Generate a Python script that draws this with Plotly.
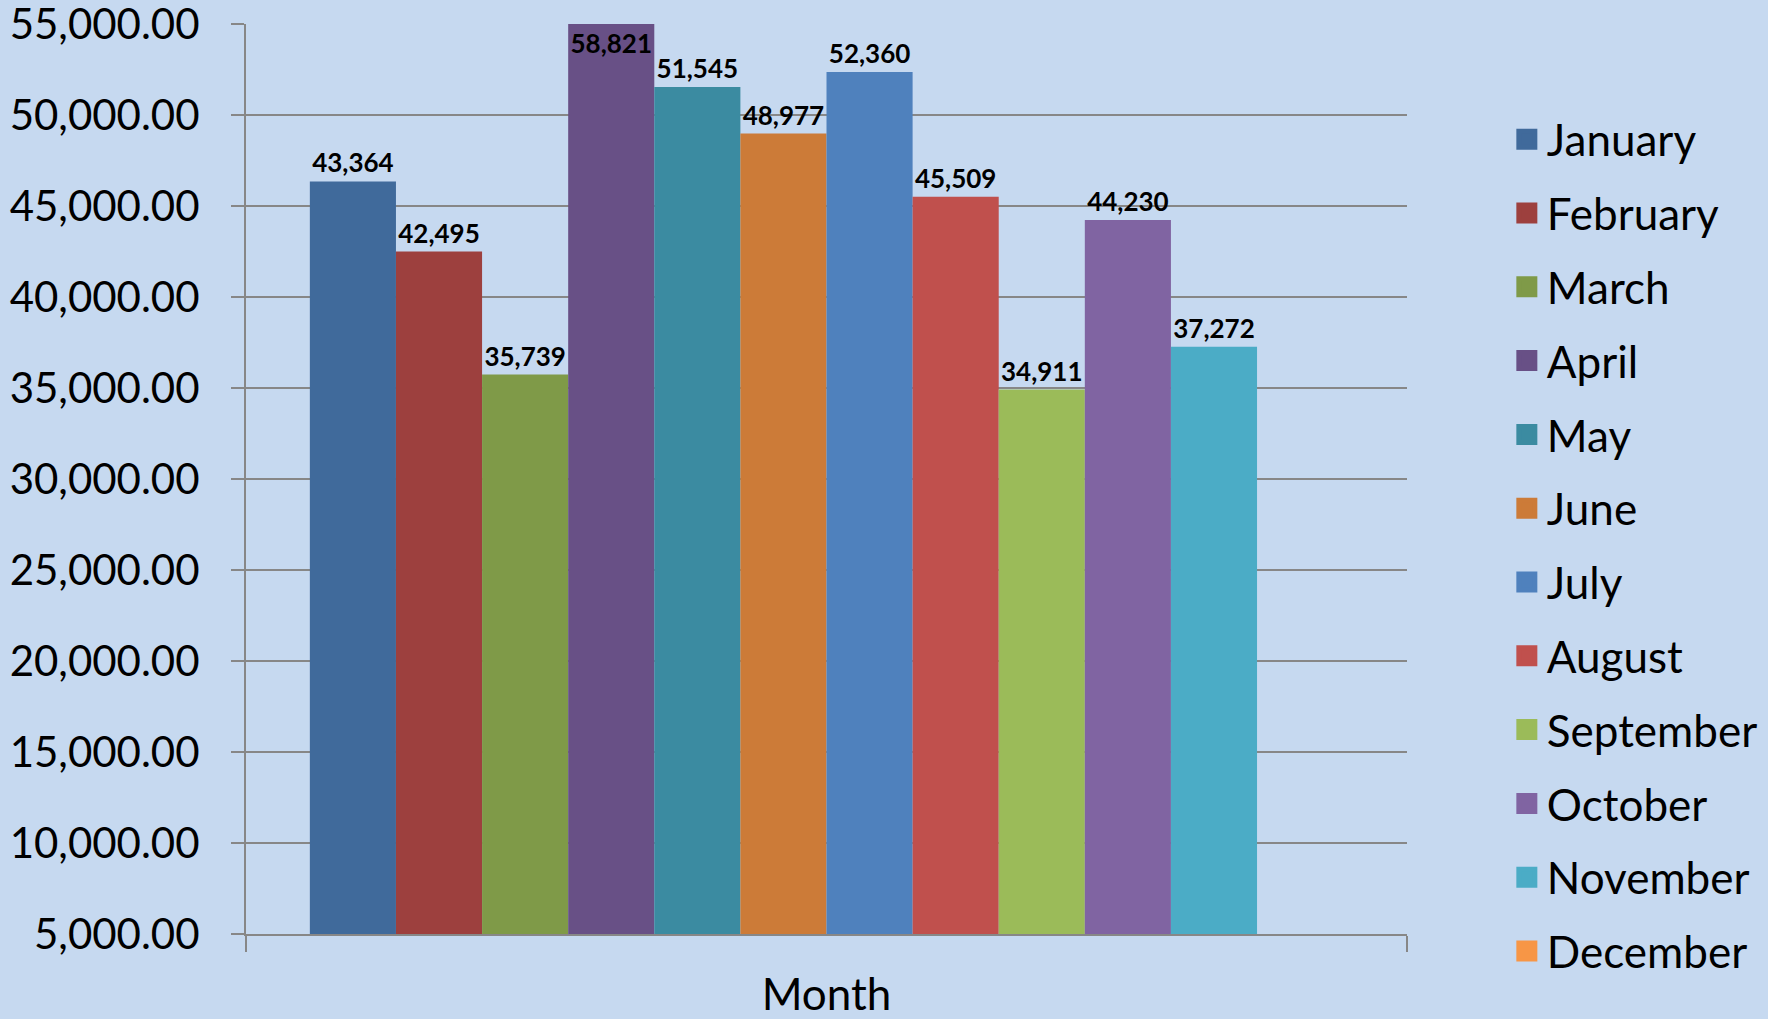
import plotly.graph_objects as go

months = ["January", "February", "March", "April", "May", "June",
          "July", "August", "September", "October", "November", "December"]
# bar heights as drawn in the picture
values = [46350, 42495, 35739, 58821, 51545, 48977,
          52360, 45509, 34911, 44230, 37272, None]
# data-label texts as printed in the picture
labels = ["43,364", "42,495", "35,739", "58,821", "51,545", "48,977",
          "52,360", "45,509", "34,911", "44,230", "37,272", ""]
colors = ["#406A9B", "#9D403E", "#7F9A48", "#685086", "#3B8BA1", "#CC7B38",
          "#4F81BD", "#C0504D", "#9BBB59", "#8064A2", "#4BACC6", "#F79646"]
category = "Month"
y_min, y_max, y_step = 5000, 55000, 5000

BG = "#C6D9F0"
GRID = "#878787"
FONT = "Lato"

fig = go.Figure()
for m, v, lab, c in zip(months, values, labels, colors):
    clipped = v is not None and v > y_max
    # like the original, a bar beyond the axis maximum is cut at the top
    # and its label is shown inside the visible part
    shown = min(v, y_max) if v is not None else None
    fig.add_trace(go.Bar(
        x=[category], y=[shown], name=m,
        marker=dict(color=c, line=dict(width=0)),
        text=[lab],
        textposition="inside" if clipped else "outside",
        insidetextanchor="end", textangle=0,
        textfont=dict(family=FONT, size=26, color="black", weight="bold"),
        constraintext="none",
        cliponaxis=False,
        legendgroup=m, showlegend=False,
        hoverinfo="skip",
    ))
    # legend entry (square swatch)
    fig.add_trace(go.Scatter(
        x=[None], y=[None], mode="markers", name=m,
        marker=dict(symbol="square", size=27, color=c,
                    line=dict(width=5, color=c)),
        legendgroup=m, showlegend=True, hoverinfo="skip",
    ))

fig.update_layout(
    width=1768, height=1019,
    paper_bgcolor=BG, plot_bgcolor=BG,
    barmode="group", bargap=0.11, bargroupgap=0,
    margin=dict(l=246, r=361, t=24, b=85, autoexpand=False),
    font=dict(family=FONT, color="black"),
    showlegend=True,
    legend=dict(
        x=1.086, xanchor="left", y=0.912, yanchor="top",
        font=dict(family=FONT, size=44, color="black"),
        bgcolor="rgba(0,0,0,0)", tracegroupgap=13.6,
        traceorder="grouped", itemsizing="trace",
    ),
)
fig.update_yaxes(
    range=[y_min, y_max], dtick=y_step, tick0=y_min, tickformat=",.2f",
    showgrid=True, gridcolor=GRID, gridwidth=2,
    showline=True, linecolor=GRID, linewidth=2,
    ticks="outside", ticklen=13, tickcolor=GRID, tickwidth=2,
    tickfont=dict(family=FONT, size=42, color="black"),
    ticklabelstandoff=23, ticklabeloverflow="allow", zeroline=False,
    automargin=False,
)
fig.update_xaxes(
    showline=True, linecolor=GRID, linewidth=2,
    ticks="outside", ticklen=16, tickcolor=GRID, tickwidth=2,
    tickson="boundaries",
    tickfont=dict(family=FONT, size=44, color="black"),
    ticklabelstandoff=21, showgrid=False, automargin=False,
)

fig.write_html(
    "out.html",
    config={"displayModeBar": False},
    post_script=(
        "document.body.style.margin='0';"
        "document.body.style.background='" + BG + "';"
        "document.documentElement.style.overflow='hidden';"
    ),
)
